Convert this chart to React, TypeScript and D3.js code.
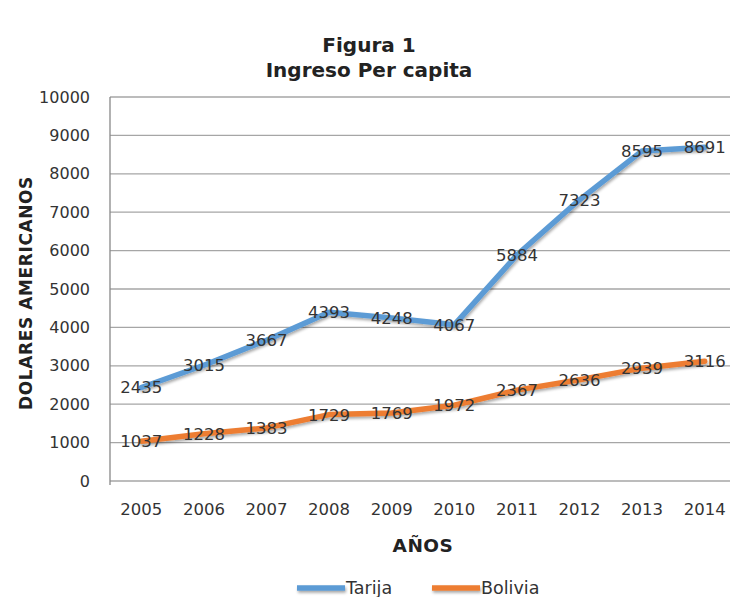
import React from "react";
import * as d3 from "d3";

const years = ["2005","2006","2007","2008","2009","2010","2011","2012","2013","2014"];
const tarija = [2435,3015,3667,4393,4248,4067,5884,7323,8595,8691];
const bolivia = [1037,1228,1383,1729,1769,1972,2367,2636,2939,3116];
const yTicks = [0,1000,2000,3000,4000,5000,6000,7000,8000,9000,10000];
const seriesNames = ["Tarija","Bolivia"];
const colors = ["#5b9bd5","#ed7d31"];

const W = 730, H = 597;
const left = 110, right = 736, top = 97, bottom = 481;
const font = "'DejaVu Sans', sans-serif";

export default function App() {
  const x = d3.scaleBand<string>().domain(years).range([left, right]);
  const y = d3.scaleLinear().domain([0, 10000]).range([bottom, top]);
  const line = d3.line<number>()
    .x((_, i) => (x(years[i]) as number) + x.bandwidth() / 2)
    .y((d) => y(d));
  const series = [tarija, bolivia];
  return (
    <svg width={W} height={H} style={{ position: "absolute", left: 0, top: 0, background: "#fff" }}>
      <defs>
        <filter id="sh" filterUnits="userSpaceOnUse" x="0" y="0" width={W} height={H}>
          <feGaussianBlur in="SourceAlpha" stdDeviation="1.5" />
          <feOffset dx="1" dy="2" result="b" />
          <feComponentTransfer><feFuncA type="linear" slope="0.35" /></feComponentTransfer>
          <feMerge><feMergeNode /><feMergeNode in="SourceGraphic" /></feMerge>
        </filter>
      </defs>
      <rect width={W} height={H} fill="#fff" />
      <text x={369} y={52} textAnchor="middle" fontFamily={font} fontWeight="bold" fontSize={20} fill="#222">Figura 1</text>
      <text x={369} y={77} textAnchor="middle" fontFamily={font} fontWeight="bold" fontSize={20} fill="#222">Ingreso Per capita</text>
      {yTicks.map((t) => (
        <g key={t}>
          <line x1={left} x2={W} y1={y(t)} y2={y(t)} stroke="#a6a6a6" strokeWidth={1.3} />
          <text x={90} y={y(t) + 5.5} textAnchor="end" fontFamily={font} fontSize={16} fill="#333">{t}</text>
        </g>
      ))}
      <line x1={left} x2={left} y1={top} y2={bottom + 4} stroke="#888" strokeWidth={1.3} />
      {years.map((yr) => (
        <text key={yr} x={(x(yr) as number) + x.bandwidth() / 2} y={515} textAnchor="middle" fontFamily={font} fontSize={16.5} fill="#333">{yr}</text>
      ))}
      <text x={423} y={552} textAnchor="middle" fontFamily={font} fontWeight="bold" fontSize={18.5} letterSpacing={0.5} fill="#222">AÑOS</text>
      <text transform={`translate(32,${293}) rotate(-90)`} textAnchor="middle" fontFamily={font} fontWeight="bold" fontSize={17} letterSpacing={0.6} fill="#222">DOLARES AMERICANOS</text>
      {series.map((s, k) => (
        <path key={k} d={line(s) as string} fill="none" stroke={colors[k]} strokeWidth={5.5} strokeLinejoin="round" strokeLinecap="round" filter="url(#sh)" />
      ))}
      {series.map((s, k) =>
        s.map((v, i) => (
          <text key={k + "-" + i} x={(x(years[i]) as number) + x.bandwidth() / 2} y={y(v) + 6} textAnchor="middle" fontFamily={font} fontSize={16.5} fill="#333">{v}</text>
        ))
      )}
      {seriesNames.map((n, k) => {
        const lx = k === 0 ? 297 : 432;
        return (
          <g key={n}>
            <path d={`M${lx},588H${lx + 48}`} stroke={colors[k]} strokeWidth={5.5} filter="url(#sh)" />
            <text x={lx + 49} y={594} fontFamily={font} fontSize={17.5} fill="#333">{n}</text>
          </g>
        );
      })}
    </svg>
  );
}
